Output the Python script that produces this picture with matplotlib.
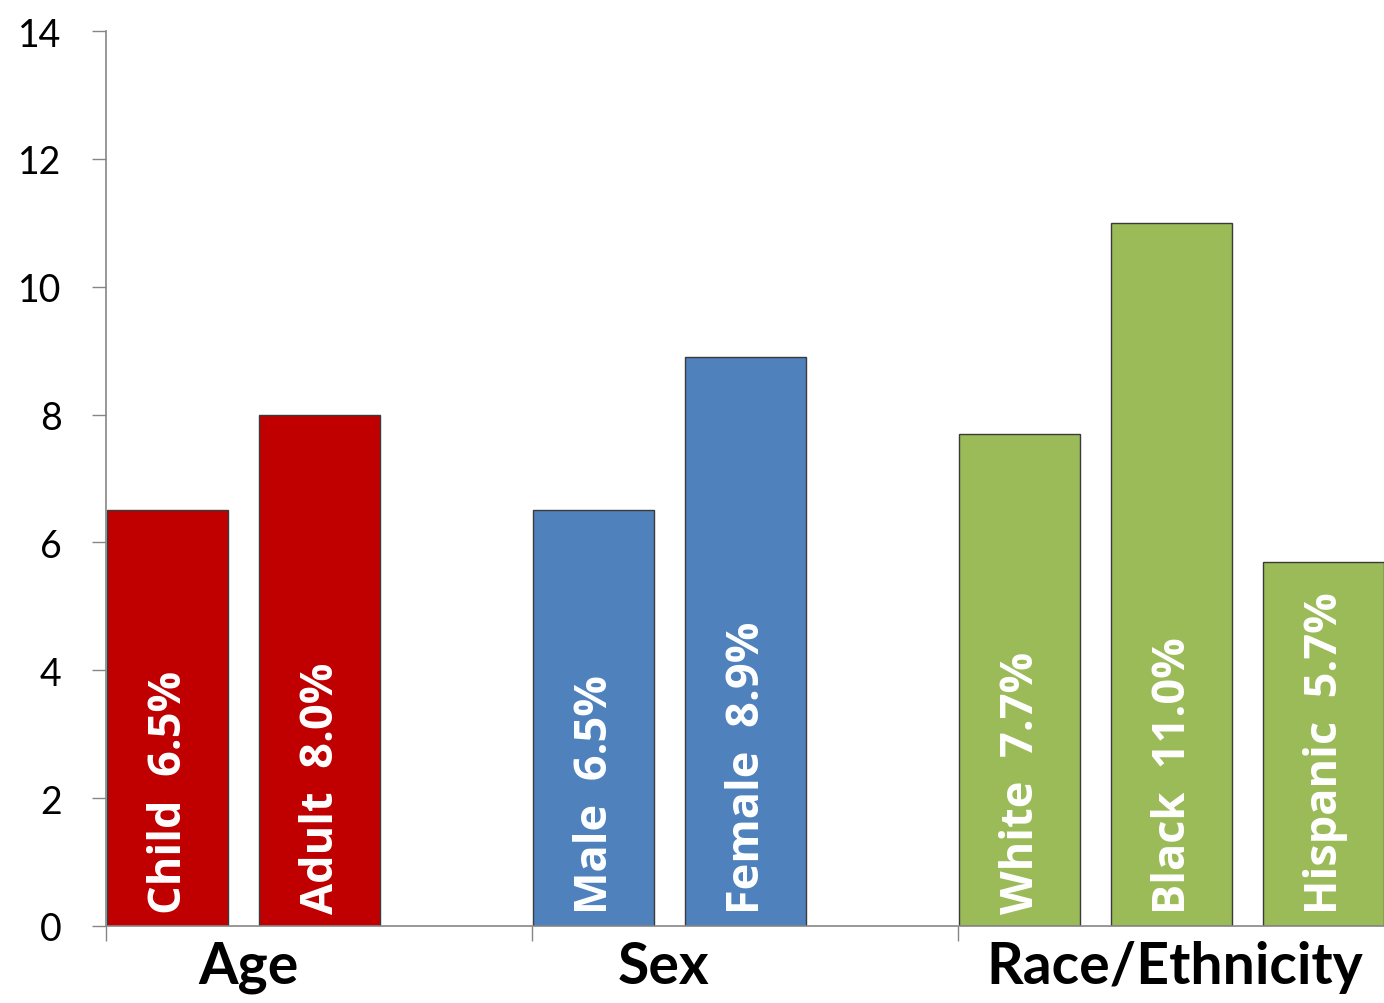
import numpy as np
import matplotlib
matplotlib.use("Agg")
from matplotlib import pyplot as plt

plt.rcParams['font.family'] = ['Lato', 'DejaVu Sans']

groups = ["Age", "Sex", "Race/Ethnicity"]
group_label_x = [0.334, 1.309, 2.508]
bar_names = [["Child", "Adult"], ["Male", "Female"], ["White", "Black", "Hispanic"]]
bar_values = [[6.5, 8.0], [6.5, 8.9], [7.7, 11.0, 5.7]]
group_colors = ["#C00000", "#4F81BD", "#9BBB59"]

fig = plt.figure(figsize=(13.84, 10.04), dpi=100)
ax = fig.add_axes([106 / 1384, 1 - 927 / 1004, 1 - 106 / 1384, (927 - 32) / 1004])

slot = 0.357
width = 0.284
for g in range(len(groups)):
    for j, (name, val) in enumerate(zip(bar_names[g], bar_values[g])):
        x0 = g + j * slot + 0.003
        ax.bar(x0, val, width=width, align='edge', color=group_colors[g],
               edgecolor="#3a3a3a", linewidth=1.0, zorder=2)
        ax.text(x0 + width / 2 + 0.004, 0.2, f"{name}  {val:.1f}%", rotation=90,
                ha='center', va='bottom', color='white', fontsize=32.5,
                fontweight='bold', family=['Open Sans', 'DejaVu Sans'], zorder=3)
    ax.text(group_label_x[g], -0.22, groups[g], ha='center', va='top',
            fontsize=41, fontweight='bold', color='black')

ax.set_xlim(0, 3)
ax.set_ylim(0, 14)
ax.set_yticks(np.arange(0, 15, 2))
ax.set_xticks([0, 1, 2])
ax.set_xticklabels([])
ax.tick_params(axis='y', labelsize=27, length=10, width=1, color='#868686', pad=22)
ax.tick_params(axis='x', length=11, width=1, color='#868686')
for s in ['top', 'right']:
    ax.spines[s].set_visible(False)
for s in ['left', 'bottom']:
    ax.spines[s].set_color('#868686')
    ax.spines[s].set_linewidth(1.2)

fig.savefig("out.png", dpi=100)
